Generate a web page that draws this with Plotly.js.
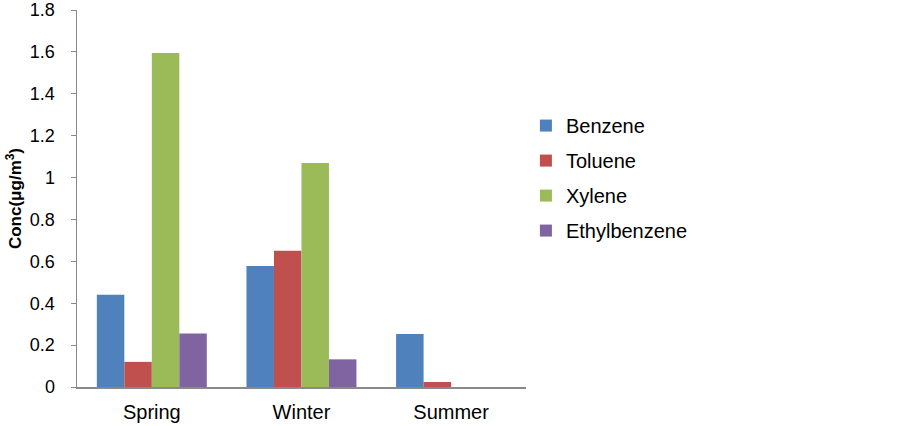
<!DOCTYPE html>
<html>
<head>
<meta charset="utf-8">
<script src="https://cdn.plot.ly/plotly-3.0.1.min.js"></script>
<style>html,body{margin:0;padding:0;background:#fff;}#chart{width:899px;height:426px;}</style>
</head>
<body>
<div id="chart"></div>
<script>
const seasons = ["Spring", "Winter", "Summer"];
const benzene = [0.44, 0.578, 0.253];
const toluene = [0.12, 0.65, 0.024];
const xylene = [1.595, 1.07, 0];
const ethylbenzene = [0.256, 0.132, 0];
const seriesNames = ["Benzene", "Toluene", "Xylene", "Ethylbenzene"];
const seriesColors = ["#4F81BD", "#C0504D", "#9BBB59", "#8064A2"];
const yTicks = [0, 0.2, 0.4, 0.6, 0.8, 1, 1.2, 1.4, 1.6, 1.8];

const allValues = [benzene, toluene, xylene, ethylbenzene];
const traces = allValues.map((vals, i) => ({
  type: "bar",
  name: seriesNames[i],
  x: seasons,
  y: vals,
  legendgroup: "g" + i,
  marker: { color: seriesColors[i], line: { width: 0 } },
  hoverinfo: "skip"
}));

const layout = {
  width: 899,
  height: 426,
  margin: { l: 77, r: 369, t: 10, b: 39 },
  paper_bgcolor: "#fff",
  plot_bgcolor: "#fff",
  font: { family: "Arial, Liberation Sans, sans-serif", size: 18, color: "#000" },
  barmode: "group",
  bargap: 0.265,
  bargroupgap: 0,
  showlegend: true,
  legend: {
    xref: "container", yref: "container",
    x: 0.585, y: 0.751, xanchor: "left", yanchor: "top",
    font: { size: 20, color: "#000" },
    traceorder: "grouped",
    tracegroupgap: 6,
    bgcolor: "rgba(0,0,0,0)"
  },
  xaxis: {
    showline: true, linecolor: "#898989", linewidth: 2,
    ticks: "outside", ticklen: 4, tickcolor: "rgba(0,0,0,0)",
    ticklabelstandoff: 2,
    showgrid: false, zeroline: false,
    tickfont: { size: 20 }
  },
  yaxis: {
    range: [0, 1.8],
    tickvals: yTicks,
    ticktext: yTicks.map(v => String(v)),
    showline: true, linecolor: "#898989", linewidth: 1.5,
    ticks: "outside", ticklen: 5, tickcolor: "#898989",
    ticklabelstandoff: 12,
    showgrid: false, zeroline: false,
    tickfont: { size: 18 },
    title: { text: "<b>Conc(μg/m<sup>3</sup>)</b>", font: { size: 17 }, standoff: 4 }
  }
};

Plotly.newPlot("chart", traces, layout, { staticPlot: true, displayModeBar: false });
</script>
</body>
</html>
